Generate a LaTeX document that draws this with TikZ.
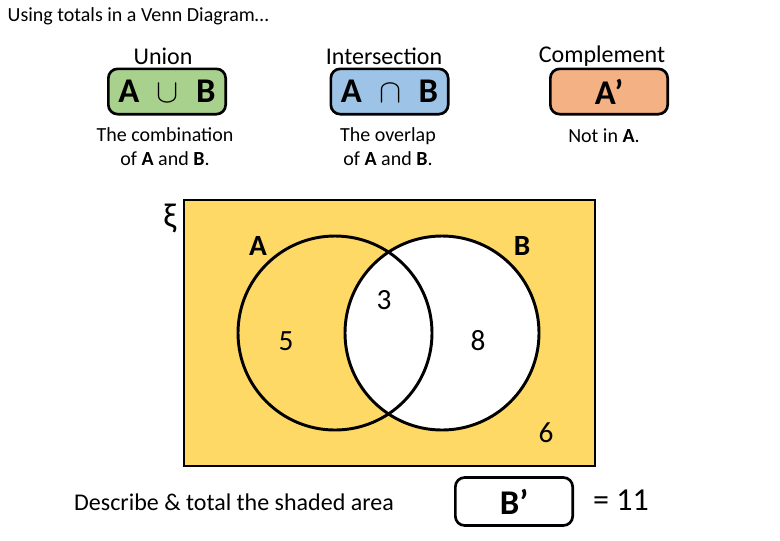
\documentclass[tikz,border=0pt]{standalone}
\usepackage{fontspec}
\setmainfont{Carlito}
\usepackage{tikz}
\usetikzlibrary{positioning}

\definecolor{unionfill}{HTML}{A9D18E}
\definecolor{interfill}{HTML}{9DC3E6}
\definecolor{compfill}{HTML}{F4B183}
\definecolor{shade}{HTML}{FFD966}

\begin{document}
\begin{tikzpicture}[x=0.75pt, y=-0.75pt,
		setbox/.style={draw, line width=2pt, rounded corners=7pt, minimum width=88pt, minimum height=34pt, inner sep=0pt, font=\fontsize{26}{28}\selectfont\bfseries},
		heading/.style={font=\fontsize{18}{20}\selectfont},
		desc/.style={font=\fontsize{15}{18}\selectfont, align=center},
		count/.style={font=\fontsize{22}{24}\selectfont}]
				\useasboundingbox (0,0) rectangle (780,540);
				
				\node[anchor=west, font=\fontsize{15}{17}\selectfont] (title) at (3, 16) {Using totals in a Venn Diagram…};
				
				% the three set operations
				\node[heading] (uhead) at (163, 56) {Union};
				\node[heading] (ihead) at (384, 56) {Intersection};
				\node[heading] (chead) at (602, 56) {Complement};
				
				\node[setbox, fill=unionfill] (union) at (167, 91.5) {A\enspace$\cup$\enspace B};
				\node[setbox, fill=interfill] (inter) at (389.5, 91.5) {A\enspace$\cap$\enspace B};
				\node[setbox, fill=compfill] (comp) at (609, 91.5) {A’};
				
				\node[desc] (udesc) at (165, 147) {The combination\\ of \textbf{A} and \textbf{B}.};
				\node[desc] (idesc) at (388, 147) {The overlap\\ of \textbf{A} and \textbf{B}.};
				\node[desc, anchor=north] (cdesc) at (604, 124) {Not in \textbf{A}.};
				
				% venn diagram
				\draw[line width=2.2pt, fill=shade] (184, 200) rectangle (595, 466);
				\node[font=\fontsize{26}{28}\selectfont] (xi) at (170, 218) {ξ};
				
				\coordinate (ca) at (335, 333);
				\coordinate (cb) at (442, 333);
				\fill[white] (cb) circle (97);
				\draw[line width=2.2pt] (ca) circle (97);
				\draw[line width=2.2pt] (cb) circle (97);
				
				\node[count, font=\fontsize{22}{24}\selectfont\bfseries] (alabel) at (258, 246) {A};
				\node[count, font=\fontsize{22}{24}\selectfont\bfseries] (blabel) at (522, 246) {B};
				\node[count] (nonly) at (286, 341) {5};
				\node[count] (nboth) at (384, 300) {3};
				\node[count] (bonly) at (478, 341) {8};
				\node[count] (neither) at (546, 433) {6};
				
				% question and answer
				\node[font=\fontsize{18}{20}\selectfont] (question) at (234, 502) {Describe \& total the shaded area};
				\node[setbox, fill=white, minimum width=88pt, minimum height=36pt] (answer) at (514, 501.5) {B’};
				\node[font=\fontsize{24}{26}\selectfont] (total) at (621, 500) {= 11};
			\end{tikzpicture}
\end{document}
